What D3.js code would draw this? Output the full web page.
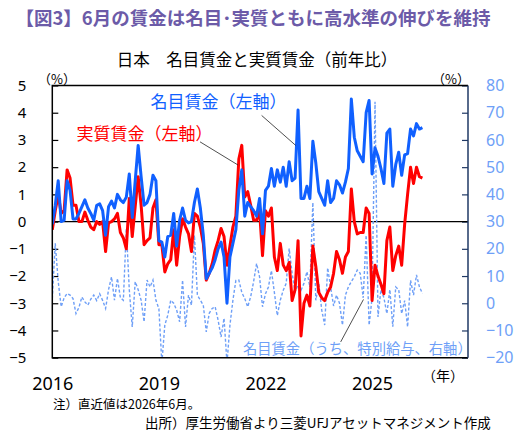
<!DOCTYPE html>
<html>
<head>
<meta charset="utf-8">
<script src="https://cdn.jsdelivr.net/npm/d3@7"></script>
<style>
  body { margin: 0; background: #fff; }
  svg text { font-family: "Noto Sans CJK JP", "Noto Sans", sans-serif; }
  .num { font-family: "Noto Sans", "DejaVu Sans", sans-serif !important; }
</style>
</head>
<body>
<div id="chart"></div>
<script>
// monthly, y/y %, Jan 2016 .. Jun 2026 (126 months)
const startYear = 2016;

const nominalWage = [
  -0.1, 0.6, 1.5, 0.0, 0.05, 1.5, 1.15, 0.1, 0.1, 0.3,
  0.55, 0.8, 0.5, 0.3, 0.05, 0.6, 0.65, 0.4, -0.5, 0.55,
  0.75, 0.5, 1.0, 0.8, 0.7, 0.9, 1.75, 0.15, 1.5, 2.8,
  1.65, 0.6, 0.7, 1.0, 1.7, 1.5, -0.7, -0.75, -1.3, -0.55,
  -0.5, 0.3, -0.9, 0.05, 0.5, 0.05, -0.05, 0.0, 0.7, 1.2,
  0.5, -0.5, -2.1, -1.9, -1.7, -1.4, -1.0, -0.75, -1.3, -3.0,
  -1.3, -0.8, -0.3, 1.15, 1.9, 0.2, 0.7, 0.55, 0.4, 0.2,
  0.85, -0.45, 1.15, 1.3, 1.95, 1.3, 1.9, 1.45, 2.0, 1.3,
  2.2, 1.5, 1.6, 4.1, 0.85, 0.85, 1.3, 0.85, 2.95, 2.15,
  1.1, 0.85, 0.6, 1.5, 0.7, 0.85, 1.5, 1.35, 1.05, 1.45,
  1.95, 4.5, 3.1, 2.6, 2.4, 2.2, 4.0, 4.45, 1.75, 2.7,
  2.4, 1.95, 1.4, 3.25, 3.4, 1.3, 2.1, 2.55, 1.7, 2.45,
  2.5, 3.4, 3.15, 3.6, 3.4, 3.45
];

const realWage = [
  -0.3, 0.4, 1.0, 0.3, 0.4, 1.9, 1.6, 0.6, 0.6, 0.0,
  0.0, 0.35, 0.05, -0.2, -0.3, 0.0, -0.1, 0.0, -1.1, -0.05,
  0.0, 0.1, 0.3, -0.4, -0.6, -1.0, 0.85, -0.55, 0.55, 1.65,
  0.6, -0.85, -0.7, -0.6, 0.5, 0.8, -0.85, -0.85, -1.85, -1.55,
  -1.4, -0.3, -1.6, -0.55, 0.1, -0.2, -0.45, -1.1, 0.3, 0.2,
  -0.2, -0.8, -2.15, -1.9, -1.55, -1.05, -0.7, -0.25, -0.55, -1.6,
  -0.9, -0.2, 0.2, 2.3, 2.8, 0.9, 1.1, 0.6, 0.05, 0.05,
  0.4, -1.25, 0.4, 0.2, 0.5, -1.3, -1.8, -0.8, -1.6, -1.8,
  -1.5, -2.9, -2.5, -0.7, -4.2, -3.0, -2.7, -3.1, -0.9, -1.65,
  -2.6, -2.8, -2.9, -2.6, -2.4, -1.9, -1.1, -1.4, -1.9, -1.3,
  -1.1, 1.2, 0.0, -0.45, -0.4, -0.4, 0.5, 0.3, -2.9, -1.6,
  -2.0, -2.3, -2.65, -0.7, -0.2, -1.8, -1.25, -0.9, -1.6, -0.1,
  1.0, 2.0, 1.4, 2.0, 1.65, 1.6
];

// 特別給与 (right axis)
const bonusWage = [
  1.7, 22, 8, -1.3, 2, 3.6, 3.0, 1.7, -3.8, -1.5,
  2.3, 0.5, -0.7, 1.5, 3.0, 1.0, 3.5, 1.0, -1.9, 5.0,
  9.7, 1.1, 9.1, 2.0, 1.1, 27.5, 5.0, -8.7, 7.9, 5.0,
  1.1, -6.8, 8.5, 6.0, 8.5, 1.1, -2, -22, -8.0, -4.4,
  1.1, 0, -2.5, -6.8, 8.5, -8.7, 3.0, -0.7, 25, 3.0,
  1.1, -0.7, -10.5, -3.7, -1.9, -1.3, -6.2, -12.4, -5.5, -22,
  -8, 1.1, 8.4, 8.5, 4, 1.7, -1.3, 2.4, 8, 14.6,
  9.7, -1.3, 3.5, 6, 12, 4, -4.5, 1.1, 4.8, 7.3,
  20.1, 11, 4.2, 6.7, 4.8, 7.3, 11.6, 6.0, 37, 1.1,
  7.3, -2.5, -8.0, 13, 6, -1, 3, 0, -8, 3,
  6, 8, 9.7, 12.2, 11, 2, 25, -8, 2, 74,
  -5, 5, 2, -3.8, 5, -8.6, 6, 5, -3.8, 1,
  -8.7, 8.4, 3, 10.4, 6.0, 3.6
];

const yearTicks = [2016, 2019, 2022, 2025];
const leftTicks = [-5, -4, -3, -2, -1, 0, 1, 2, 3, 4, 5];
const rightTicks = [-20, -10, 0, 10, 20, 30, 40, 50, 60, 70, 80];

// labels + leader lines, in data units (month index, left-axis value)
const notes = [
  { text: '名目賃金（左軸）', color: '#1060ff', size: 17, at: [33.2, 4.17], line: [[70.7, 3.9], [82.2, 2.8]] },
  { text: '実質賃金（左軸）', color: '#ff0000', size: 17, at: [8.2, 3.0], line: [[49.9, 2.93], [62.7, 2.08]] },
  { text: '名目賃金（うち、特別給与、右軸）', color: '#6e9ff7', size: 14.3, at: [64.4, -4.87], line: [[97.4, -4.42], [105.1, -2.86]] }
];

function drawChart() {
  const W = 525, H = 433;
  const box = { left: 52.3, right: 468, top: 85.5, bottom: 357.7 };

  const svg = d3.select('#chart').append('svg').attr('width', W).attr('height', H);

  const x = d3.scaleLinear().domain([0, 140.4]).range([box.left, box.right]);
  const yL = d3.scaleLinear().domain([-5, 5]).range([box.bottom, box.top]);
  const yR = d3.scaleLinear().domain([-20, 80]).range([box.bottom, box.top]);

  // titles
  svg.append('text').attr('x', 253).attr('y', 25).attr('text-anchor', 'middle')
    .attr('font-size', 18.5).attr('font-weight', 'bold').attr('fill', '#6c5ba8')
    .text('【図3】6月の賃金は名目･実質ともに高水準の伸びを維持');
  svg.append('text').attr('x', 257).attr('y', 66).attr('text-anchor', 'middle')
    .attr('font-size', 16.5).attr('fill', '#000')
    .text('日本　名目賃金と実質賃金（前年比）');

  svg.append('text').attr('x', 57).attr('y', 84).attr('text-anchor', 'middle')
    .attr('font-size', 13).text('（%）');
  svg.append('text').attr('x', 451).attr('y', 84).attr('text-anchor', 'middle')
    .attr('font-size', 13).text('（%）');

  // axes - ticks point inwards, labels outside
  const gl = svg.append('g').attr('transform', `translate(${box.left},0)`)
    .call(d3.axisLeft(yL).tickValues(leftTicks).tickSizeInner(-6).tickSizeOuter(0).tickPadding(26));
  gl.select('.domain').remove();
  gl.selectAll('line').attr('stroke', '#000').attr('stroke-width', 1.2);
  gl.selectAll('text').attr('class', 'num').attr('font-size', 15).attr('fill', '#000');

  const gr = svg.append('g').attr('transform', `translate(${box.right},0)`)
    .call(d3.axisRight(yR).tickValues(rightTicks).tickSizeInner(-6).tickSizeOuter(0).tickPadding(18));
  gr.select('.domain').remove();
  gr.selectAll('line').attr('stroke', '#1f3864').attr('stroke-width', 1.2);
  gr.selectAll('text').attr('class', 'num').attr('font-size', 16).attr('fill', '#6e9ff7');

  const gb = svg.append('g').attr('transform', `translate(0,${box.bottom})`)
    .call(d3.axisBottom(x).tickValues(yearTicks.map((y) => (y - startYear) * 12))
      .tickFormat((d, i) => yearTicks[i]).tickSize(0).tickPadding(20));
  gb.select('.domain').remove();
  gb.selectAll('text').attr('class', 'num').attr('font-size', 18).attr('fill', '#000');

  svg.append('text').attr('x', 443).attr('y', 381).attr('text-anchor', 'middle')
    .attr('font-size', 14).text('（年）');

  // clip for the series
  svg.append('clipPath').attr('id', 'plot').append('rect')
    .attr('x', box.left).attr('y', box.top)
    .attr('width', box.right - box.left).attr('height', box.bottom - box.top);

  const plot = svg.append('g').attr('clip-path', 'url(#plot)');

  // zero line
  plot.append('line').attr('x1', box.left).attr('x2', box.right)
    .attr('y1', yL(0)).attr('y2', yL(0)).attr('stroke', '#000').attr('stroke-width', 1.3);

  const lineR = d3.line().x((d, i) => x(i)).y((d) => yR(d));
  const lineL = d3.line().x((d, i) => x(i)).y((d) => yL(d));

  plot.append('path').datum(bonusWage).attr('d', lineR)
    .attr('fill', 'none').attr('stroke', '#6e9ff7').attr('stroke-width', 1.4)
    .attr('stroke-dasharray', '3,2');
  plot.append('path').datum(realWage).attr('d', lineL)
    .attr('fill', 'none').attr('stroke', '#ff0000').attr('stroke-width', 3)
    .attr('stroke-linejoin', 'round');
  plot.append('path').datum(nominalWage).attr('d', lineL)
    .attr('fill', 'none').attr('stroke', '#1060ff').attr('stroke-width', 3)
    .attr('stroke-linejoin', 'round');

  // frame - right side navy like the right axis
  svg.append('path')
    .attr('d', `M${box.right},${box.top}H${box.left}V${box.bottom}H${box.right}`)
    .attr('fill', 'none').attr('stroke', '#000').attr('stroke-width', 1.5);
  svg.append('line').attr('x1', box.right).attr('x2', box.right)
    .attr('y1', box.top).attr('y2', box.bottom).attr('stroke', '#1f3864').attr('stroke-width', 1.5);

  // series labels with leader lines
  notes.forEach((n) => {
    svg.append('line')
      .attr('x1', x(n.line[0][0])).attr('y1', yL(n.line[0][1]))
      .attr('x2', x(n.line[1][0])).attr('y2', yL(n.line[1][1]))
      .attr('stroke', '#222').attr('stroke-width', 0.8);
    svg.append('text').attr('x', x(n.at[0])).attr('y', yL(n.at[1]))
      .attr('font-size', n.size).attr('fill', n.color).text(n.text);
  });

  // footnotes
  svg.append('text').attr('x', 53).attr('y', 409).attr('font-size', 12.5)
    .text('注）直近値は2026年6月。');
  svg.append('text').attr('x', 145).attr('y', 428).attr('font-size', 13.5)
    .text('出所）厚生労働省より三菱UFJアセットマネジメント作成');
}

window.onload = function () {
  drawChart();
};
</script>
</body>
</html>
